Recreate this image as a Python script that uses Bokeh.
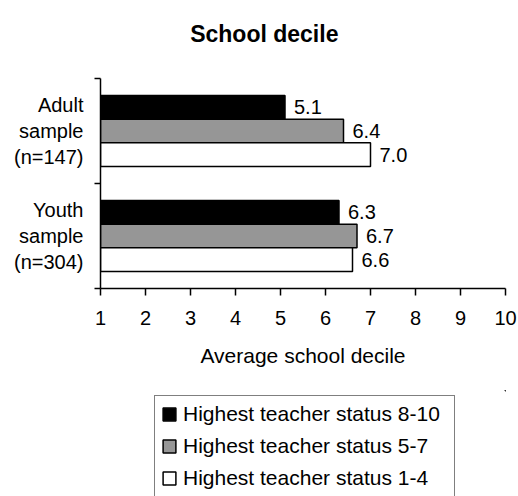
from bokeh.plotting import figure
from bokeh.layouts import column
from bokeh.models import (Range1d, FixedTicker, LabelSet, Label, ColumnDataSource,
                          Legend, LegendItem)
from bokeh.core.properties import value
from bokeh.embed import file_html
from bokeh.resources import INLINE

# ---- data ----
categories = ["Adult\nsample\n(n=147)", "Youth\nsample\n(n=304)"]
series_names = ["Highest teacher status 8-10",
                "Highest teacher status 5-7",
                "Highest teacher status 1-4"]
status_8_10 = [5.1, 6.3]
status_5_7 = [6.4, 6.7]
status_1_4 = [7.0, 6.6]
x_ticks = [1, 2, 3, 4, 5, 6, 7, 8, 9, 10]
title_text = "School decile"
x_label = "Average school decile"

series_values = [status_8_10, status_5_7, status_1_4]
fills = ["#000000", "#969696", "#ffffff"]
FONT = "Liberation Sans"
FS = "20px"
FS_BIG = "21px"

n_cat = len(categories)
cat_centers = [n_cat - i - 0.5 for i in range(n_cat)]
bar_h = 0.225
offsets = [bar_h, 0.0, -bar_h]

# layout (pixels)
W = 518
MAIN_H = 390
LEG_H = 496 - MAIN_H
FRAME_BOTTOM = 288          # frame bottom (x-axis line) from top of page
PX_PER_CAT = 105            # height of one category band
y_top = FRAME_BOTTOM / PX_PER_CAT   # frame reaches page top so the title fits inside

p = figure(width=W, height=MAIN_H, output_backend="svg", toolbar_location=None,
           x_range=Range1d(1, 10), y_range=Range1d(0, y_top), title=None,
           min_border_left=100, min_border_right=13, min_border_top=0,
           min_border_bottom=MAIN_H - FRAME_BOTTOM)
p.outline_line_color = None
p.xgrid.visible = False
p.ygrid.visible = False
p.background_fill_color = "white"
p.border_fill_color = "white"

sources = []
for name, vals, fill, off in zip(series_names, series_values, fills, offsets):
    ys = [c + off for c in cat_centers]
    src = ColumnDataSource(dict(y=ys, right=vals, left=[1] * len(vals),
                                txt=[f"{v:.1f}" for v in vals]))
    sources.append(src)
    p.hbar(y="y", left="left", right="right", height=bar_h, source=src,
           fill_color=fill, line_color="black", line_width=1.5)
    p.add_layout(LabelSet(x="right", y="y", text="txt", source=src, x_offset=9,
                          text_baseline="middle", text_align="left",
                          text_font=value(FONT), text_font_size=value(FS),
                          text_color="black"))

# title (inside the frame's upper empty area)
p.add_layout(Label(x=4.64, y=(FRAME_BOTTOM - 33) / PX_PER_CAT, text=title_text,
                   text_align="center", text_baseline="alphabetic",
                   text_font=FONT, text_font_size="23px",
                   text_font_style="bold", text_color="black"))

# x axis
xa = p.xaxis[0]
xa.ticker = FixedTicker(ticks=x_ticks)
xa.major_tick_out = 7
xa.major_tick_in = 0
xa.minor_tick_out = 0
xa.minor_tick_in = 0
xa.axis_line_width = 1.5
xa.major_tick_line_width = 1.5
xa.axis_line_color = "black"
xa.major_tick_line_color = "black"
xa.major_label_text_font = FONT
xa.major_label_text_font_size = FS
xa.major_label_text_color = "black"
xa.major_label_standoff = 15
xa.axis_label = x_label
xa.axis_label_text_font = FONT
xa.axis_label_text_font_size = FS_BIG
xa.axis_label_text_font_style = "normal"
xa.axis_label_text_color = "black"
xa.axis_label_standoff = 16

# y axis: category names at centers, ticks at category boundaries
ya = p.yaxis[0]
ya.bounds = (0, n_cat)
ya.ticker = FixedTicker(ticks=cat_centers, minor_ticks=list(range(n_cat + 1)))
ya.major_label_overrides = {c: cat for c, cat in zip(cat_centers, categories)}
ya.major_tick_out = 0
ya.major_tick_in = 0
ya.minor_tick_out = 6
ya.minor_tick_in = 0
ya.axis_line_width = 1.5
ya.minor_tick_line_width = 1.5
ya.minor_tick_line_color = "black"
ya.axis_line_color = "black"
ya.major_label_text_font = FONT
ya.major_label_text_font_size = FS
ya.major_label_text_color = "black"
ya.major_label_text_align = "center"
ya.major_label_standoff = 11
ya.major_label_orientation = "horizontal"

# legend strip below (its frame is aligned with the main frame by the column);
# the same bars are bound here but lie outside this strip's ranges, so only
# their legend swatches show.
lf = figure(width=W, height=LEG_H, output_backend="svg", toolbar_location=None,
            x_range=Range1d(-20, -19), y_range=Range1d(-20, -19), title=None,
            x_axis_location=None, y_axis_location=None,
            min_border_left=0, min_border_right=0, min_border_top=0,
            min_border_bottom=0)
lf.outline_line_color = None
lf.xgrid.visible = False
lf.ygrid.visible = False
leg_rs = []
for src, fill in zip(sources, fills):
    leg_rs.append(lf.hbar(y="y", left="left", right="right", height=bar_h,
                          source=src, fill_color=fill, line_color="black",
                          line_width=1.5))

legend = Legend(items=[LegendItem(label=n, renderers=[r])
                       for n, r in zip(series_names, leg_rs)],
                location=(54, -1), orientation="vertical")
legend.label_text_font = FONT
legend.label_text_font_size = FS_BIG
legend.label_text_color = "black"
legend.border_line_color = "black"
legend.border_line_width = 1.5
legend.padding = 6
legend.spacing = 8
legend.margin = 0
legend.glyph_width = 16
legend.glyph_height = 16
legend.label_standoff = 6
legend.label_height = 24
legend.label_width = 265
legend.background_fill_color = "white"
legend.background_fill_alpha = 1
lf.add_layout(legend)

open("out.html", "w").write(file_html(column(p, lf, spacing=0), INLINE))
